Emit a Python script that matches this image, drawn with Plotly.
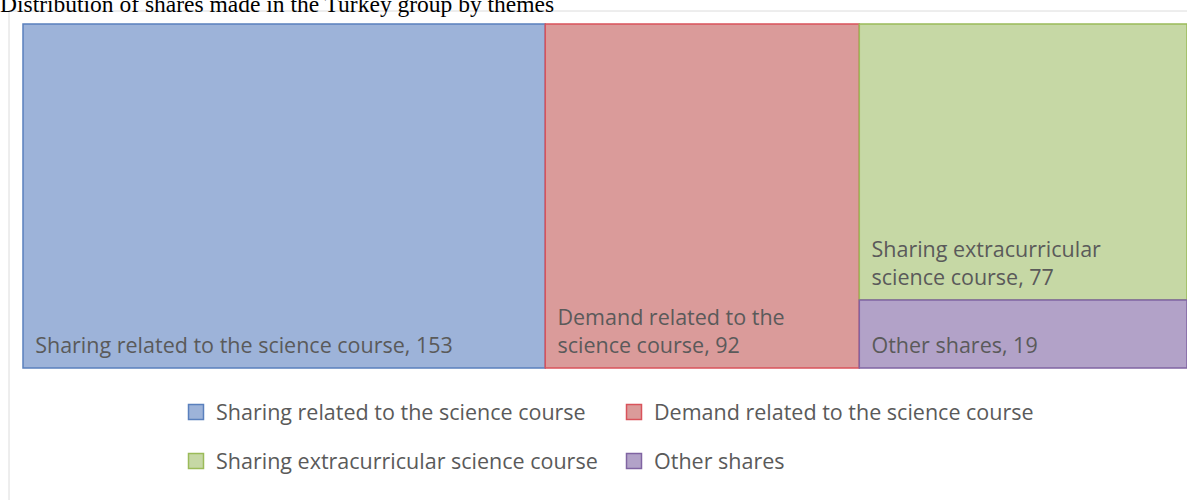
import plotly.graph_objects as go

# ---- data ----
categories = [
    "Sharing related to the science course",
    "Demand related to the science course",
    "Sharing extracurricular science course",
    "Other shares",
]
values = [153, 92, 77, 19]
tile_text = [
    "Sharing related to the science course",
    "Demand related to the<br>science course",
    "Sharing extracurricular<br>science course",
    "Other shares",
]
title_text = "Distribution of shares made in the Turkey group by themes"

# ---- styles ----
fills = ["#9db3d9", "#da9b9a", "#c6d8a5", "#b2a2c8"]
borders = ["#5a80bd", "#d9535b", "#9bbb59", "#8064a2"]
W, H = 1187, 500
font_family = "Open Sans"
text_color = "#5a5a5a"
font_size = 21.5


def px(xp):
    return xp / W


def py(yp):
    return 1 - yp / H


# inset the tile labels a little from the tile's left and bottom edges
lead = "\u00a0\u2009"
tail = "<span style='font-size:40px'>\u00a0</span>"
display_text = ["<br>".join(lead + line for line in t.split("<br>")) for t in tile_text]

fig = go.Figure()

fig.add_trace(go.Treemap(
    labels=categories,
    parents=[""] * len(categories),
    values=values,
    text=display_text,
    texttemplate="%{text}, %{value}" + tail,
    textposition="bottom left",
    textfont=dict(family=font_family, size=font_size, color=text_color),
    sort=True,
    tiling=dict(packing="squarify", pad=0),
    marker=dict(colors=fills, line=dict(color=borders, width=1.5),
                pad=dict(t=0, l=0, r=0, b=0)),
    pathbar=dict(visible=False),
    hoverinfo="label+value",
    domain=dict(x=[px(23), 1.0], y=[py(368), py(24)]),
))

legend_ids = ["legend", "legend", "legend2", "legend2"]
for cat, fc, bc, lg in zip(categories, fills, borders, legend_ids):
    fig.add_trace(go.Scatter(
        x=[None], y=[None], mode="markers", name=cat,
        marker=dict(symbol="square", size=15, color=fc, line=dict(color=bc, width=1.5)),
        legend=lg, showlegend=True, hoverinfo="skip",
    ))

legend_common = dict(
    orientation="h", xanchor="left", yanchor="middle",
    font=dict(family=font_family, size=font_size, color=text_color),
    entrywidth=393, entrywidthmode="pixels",
    bgcolor="rgba(0,0,0,0)", borderwidth=0,
    itemclick=False, itemdoubleclick=False,
)

fig.update_layout(
    template="none",
    width=W, height=H,
    margin=dict(l=0, r=0, t=0, b=0),
    paper_bgcolor="white",
    plot_bgcolor="rgba(0,0,0,0)",
    xaxis=dict(visible=False, domain=[0, 0.01]),
    yaxis=dict(visible=False, domain=[0, 0.01]),
    legend=dict(x=px(176), y=py(412), **legend_common),
    legend2=dict(x=px(176), y=py(461), **legend_common),
    shapes=[dict(type="rect", xref="paper", yref="paper",
                 x0=px(9), x1=1.05, y0=py(11), y1=-0.05,
                 line=dict(color="#dcdcdc", width=1), layer="below")],
    annotations=[dict(text=title_text, x=0, y=1, xref="paper", yref="paper",
                      xanchor="left", yanchor="top", yshift=11, xshift=-2,
                      showarrow=False,
                      font=dict(family="Liberation Serif", size=23.5, color="black"))],
)

fig.write_html(
    "out.html",
    config={"displayModeBar": False},
    post_script="document.body.style.margin='0';document.body.style.overflow='hidden';",
)
